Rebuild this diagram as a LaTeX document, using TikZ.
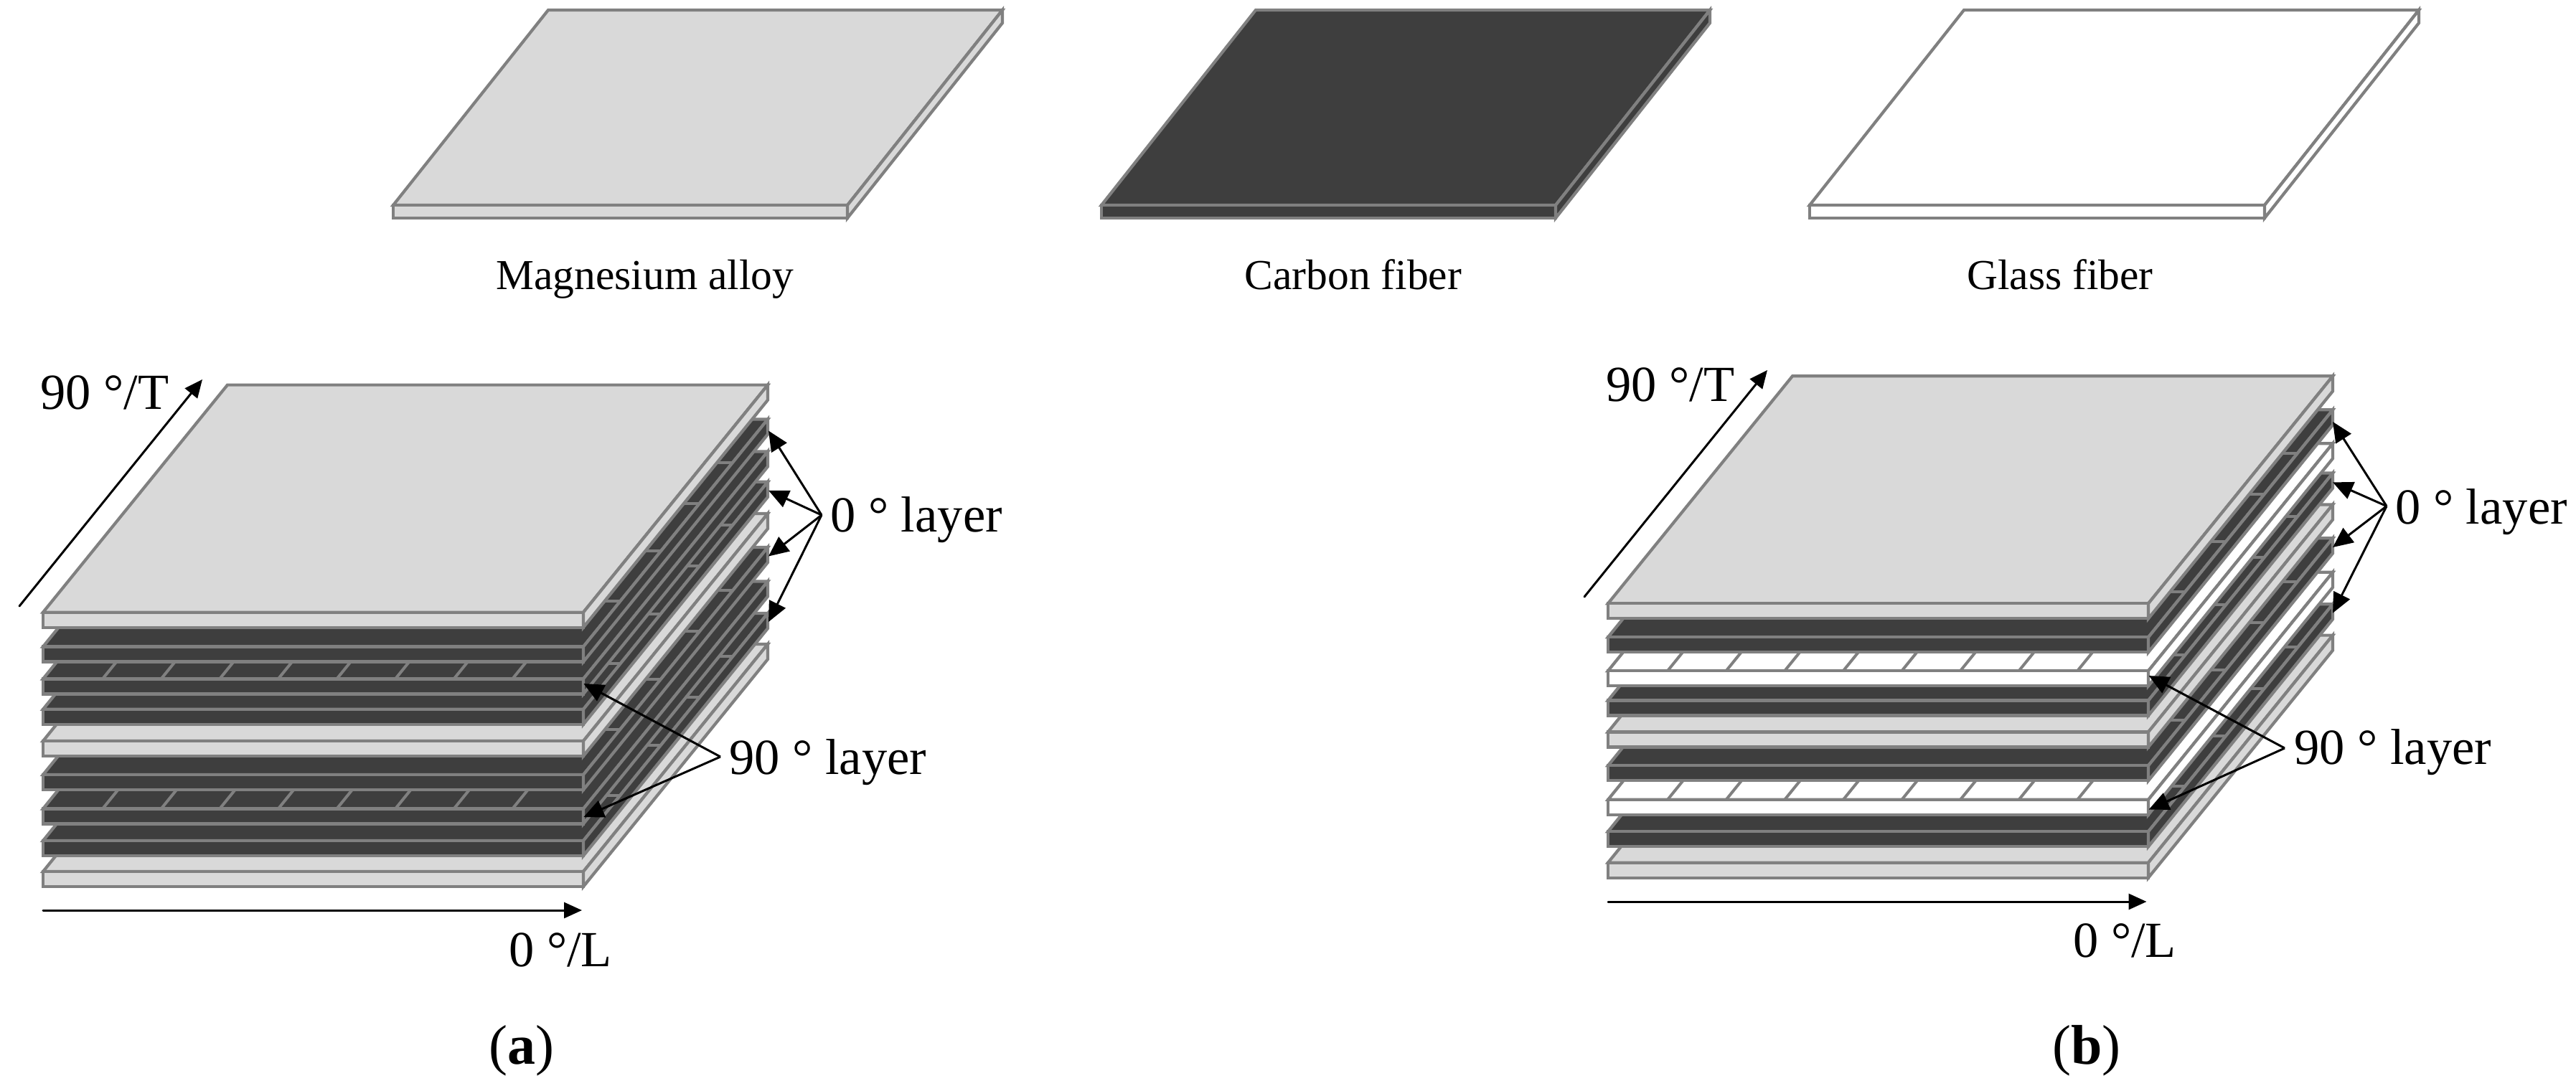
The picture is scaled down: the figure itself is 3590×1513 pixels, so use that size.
\documentclass[tikz,border=0pt]{standalone}
\usepackage{fontspec}
\setmainfont{Liberation Serif}
\usetikzlibrary{arrows.meta}
\definecolor{magcol}{HTML}{D9D9D9}
\definecolor{carbcol}{HTML}{3E3E3E}
\definecolor{edgecol}{HTML}{808080}
\tikzset{
  face/.style={draw=edgecol,line width=4.2pt,line join=miter},
  fiber/.style={draw=edgecol,line width=4pt},
  pointer/.style={draw=black,line width=3pt,-{Triangle[length=28pt,width=25pt]}},
  axisarrow/.style={draw=black,line width=3pt,line cap=round,-{Triangle[length=25pt,width=22pt]}},
  biglabel/.style={inner sep=0pt,anchor=base west,font=\fontsize{70.5}{80}\selectfont},
  caption/.style={inner sep=0pt,anchor=base,font=\fontsize{59.5}{70}\selectfont},
  panel/.style={inner sep=0pt,anchor=base,font=\fontsize{78}{90}\selectfont}
}
% #1 x, #2 y front-left top, #3 width, #4 depth dx, #5 depth dy, #6 thickness, #7 fill
\newcommand{\plate}[7]{%
  \path[face,fill=#7] (#1,#2) -- ++(#3,0) -- ++(#4,-#5) -- ++(-#3,0) -- cycle;
  \path[face,fill=#7] (#1,#2) rectangle ++(#3,#6);
  \path[face,fill=#7] (#1+#3,#2) -- ++(#4,-#5) -- ++(0,#6) -- ++(-#4,#5) -- cycle;
}
% 0 degree strip lines: horizontal marks across the top face
\newcommand{\crossmarks}[2]{%
  \foreach \f in {0.2,0.42,0.63,0.81}
    \draw[fiber] ({#1+\f*257},{#2-\f*317}) -- ++(753,0);
}
% 90 degree strip lines: depth marks across the top face
\newcommand{\depthmarks}[2]{%
  \foreach \k in {0,...,7}
    \draw[fiber] ({#1+83+81.6*\k},#2) -- ++(257,-317);
}
% one stack; #1 x, #2 list of y/colour/kind
\newcommand{\stack}[2]{%
  \foreach \yy/\col/\kind in {#2}{%
    \plate{#1}{\yy}{753}{257}{317}{21}{\col}
    \ifnum\kind=1 \crossmarks{#1}{\yy}\fi
    \ifnum\kind=2 \depthmarks{#1}{\yy}\fi
  }%
}
\begin{document}
\begin{tikzpicture}[x=1pt,y=-1pt]
\useasboundingbox (0,0) rectangle (3590,1513);
\fill[white] (0,0) rectangle (3590,1513);

% legend plates
\plate{548}{286}{633}{216}{272}{18}{magcol}
\plate{1535}{286}{633}{215}{272}{18}{carbcol}
\plate{2522}{286}{634}{215}{272}{18}{white}
\node[caption] (capmag) at (899,403) {Magnesium alloy};
\node[caption] (capcarb) at (1886,403) {Carbon fiber};
\node[caption] (capglass) at (2871,403) {Glass fiber};

% stack (a)
\stack{60}{1215/magcol/0,1172/carbcol/1,1127.5/carbcol/2,1080/carbcol/1,1033/magcol/0,988.8/carbcol/1,946.4/carbcol/2,901.5/carbcol/1,853.6/magcol/0}
% stack (b)
\stack{2241}{1202.6/magcol/0,1159.2/carbcol/1,1114.8/white/2,1067.3/carbcol/1,1020.4/magcol/0,976.5/carbcol/1,935.2/white/2,888.3/carbcol/1,841.3/magcol/0}

% labels (a)
\node[biglabel] (ta) at (56,570) {90 °/T};
\node[biglabel] (la) at (709,1347) {0 °/L};
\node[biglabel] (za) at (1157,741) {0 ° layer};
\node[biglabel] (na) at (1016,1079) {90 ° layer};
\node[panel] (pa) at (727,1483) {(\textbf{a})};
% labels (b)
\node[biglabel] (tb) at (2238,559) {90 °/T};
\node[biglabel] (lb) at (2889,1334) {0 °/L};
\node[biglabel] (zb) at (3338,730) {0 ° layer};
\node[biglabel] (nb) at (3197,1065) {90 ° layer};
\node[panel] (pb) at (2908,1483) {(\textbf{b})};

% pointers (a)
\coordinate (fza) at (1145,718);
\coordinate (fna) at (1004,1055);
\foreach \n/\y in {1/600.5,2/683.7,3/775.5,4/867}{
  \coordinate (za\n) at (1071,\y);
  \draw[pointer] (fza) -- (za\n);
}
\coordinate (na1) at (813.4,953);
\coordinate (na2) at (813.4,1139);
\draw[pointer] (fna) -- (na1);
\draw[pointer] (fna) -- (na2);
\coordinate (axa0) at (27,845);
\coordinate (axa1) at (282,529);
\coordinate (axa2) at (60,1269);
\coordinate (axa3) at (811,1269);
\draw[axisarrow] (axa0) -- (axa1);
\draw[axisarrow] (axa2) -- (axa3);

% pointers (b)
\coordinate (fzb) at (3326,705.6);
\coordinate (fnb) at (3184,1043);
\foreach \n/\y in {1/588,2/672.4,3/763,4/854.6}{
  \coordinate (zb\n) at (3251,\y);
  \draw[pointer] (fzb) -- (zb\n);
}
\coordinate (nb1) at (2994.6,942);
\coordinate (nb2) at (2994.6,1128.6);
\draw[pointer] (fnb) -- (nb1);
\draw[pointer] (fnb) -- (nb2);
\coordinate (axb0) at (2208,832);
\coordinate (axb1) at (2463,516);
\coordinate (axb2) at (2241,1257);
\coordinate (axb3) at (2991.5,1257);
\draw[axisarrow] (axb0) -- (axb1);
\draw[axisarrow] (axb2) -- (axb3);
\end{tikzpicture}
\end{document}
